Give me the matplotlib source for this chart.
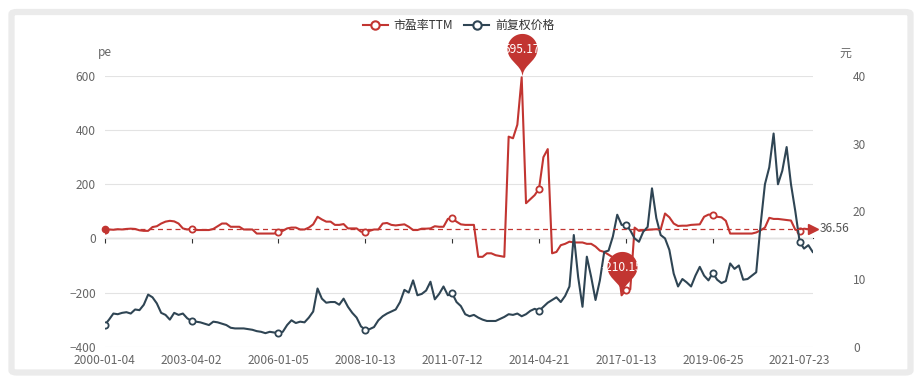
import numpy as np
import matplotlib
matplotlib.use("Agg")
import matplotlib.pyplot as plt
from matplotlib.path import Path
from matplotlib.lines import Line2D
from matplotlib.patches import FancyBboxPatch

plt.rcParams['font.family'] = ['Noto Sans CJK SC', 'DejaVu Sans']

# dados (um ponto a cada ~5 pregoes)
tick_labels = ["2000-01-04", "2003-04-02", "2006-01-05", "2008-10-13", "2011-07-12",
               "2014-04-21", "2017-01-13", "2019-06-25", "2021-07-23"]
label_step = 20

pe_ttm = [30, 33, 32, 34, 33, 35, 36, 35, 30, 28,
          28, 42, 45, 55, 62, 65, 63, 55, 37, 33,
          36, 31, 31, 31, 31, 35, 45, 55, 55, 43,
          43, 43, 33, 33, 33, 18, 18, 18, 18, 18,
          22, 28, 37, 40, 40, 33, 33, 40, 52, 80,
          70, 62, 62, 50, 50, 53, 37, 37, 37, 25,
          25, 28, 33, 33, 55, 57, 50, 48, 50, 52,
          43, 31, 31, 36, 36, 37, 45, 43, 43, 72,
          74, 62, 52, 50, 50, 50, -68, -68, -55, -55,
          -62, -65, -68, 376, 370, 420, 595.17, 130, 145, 160,
          184, 300, 330, -55, -50, -25, -20, -12, -15, -15,
          -15, -20, -20, -30, -45, -50, -60, -70, -80, -210.15,
          -190, -188, 40, 28, 30, 32, 33, 34, 33, 92,
          78, 55, 46, 47, 47, 50, 51, 52, 80, 88,
          88, 80, 78, 65, 18, 18, 18, 18, 18, 18,
          22, 30, 40, 76, 72, 72, 70, 68, 66, 32,
          28, 36, 34, 30]

price = [3.2, 4.0, 4.9, 4.8, 5.0, 5.1, 4.9, 5.5, 5.4, 6.2,
         7.7, 7.3, 6.4, 5.0, 4.7, 4.0, 5.0, 4.7, 4.9, 4.2,
         3.8, 3.7, 3.6, 3.4, 3.2, 3.7, 3.6, 3.4, 3.2, 2.8,
         2.7, 2.7, 2.7, 2.6, 2.5, 2.3, 2.2, 2.0, 2.2, 2.1,
         2.0, 2.2, 3.2, 3.9, 3.5, 3.7, 3.6, 4.3, 5.2, 8.6,
         7.1, 6.5, 6.6, 6.6, 6.2, 7.1, 5.9, 5.0, 4.3, 3.0,
         2.5, 2.6, 2.9, 3.9, 4.5, 4.9, 5.2, 5.5, 6.6, 8.4,
         8.0, 9.8, 7.6, 7.8, 8.3, 9.6, 7.0, 7.8, 8.9, 7.6,
         7.9, 6.6, 6.0, 4.8, 4.5, 4.7, 4.3, 4.0, 3.8, 3.8,
         3.8, 4.1, 4.4, 4.8, 4.7, 4.9, 4.5, 4.8, 5.3, 5.6,
         5.3, 5.9, 6.5, 6.9, 7.3, 6.6, 7.5, 8.9, 16.5, 10.3,
         5.9, 13.3, 10.3, 6.9, 9.8, 14.0, 14.2, 16.3, 19.5, 18.0,
         18.0, 17.2, 16.0, 15.5, 17.0, 17.7, 23.4, 19.0, 16.5, 16.0,
         14.3, 10.8, 8.9, 10.0, 9.5, 8.9, 10.5, 11.8, 10.5, 9.8,
         10.9, 9.9, 9.4, 9.7, 12.3, 11.5, 12.0, 9.9, 10.0, 10.5,
         11.0, 18.0, 24.0, 26.5, 31.5, 24.0, 26.0, 29.5, 24.0, 20.0,
         15.5, 14.5, 15.0, 14.0]

pe_avg = 36.56

red = '#c23531'
dark = '#2f4554'
grey_txt = '#666666'


def pin_marker():
    # formato "pin" do echarts, ponta na origem, y para cima (px)
    w, h = 30.0, 50.0
    r = w / 2
    dy = r * r / (h - r)
    c = h - r - dy
    a = np.arcsin(dy / r)
    dx = np.cos(a) * r
    tx, ty = np.sin(a), np.cos(a)
    cp1, cp2 = r * 0.6, r * 0.7
    ang = np.linspace(np.pi + a, -a, 60)
    verts = [(r * np.cos(t), c + r * np.sin(t)) for t in ang]
    codes = [Path.MOVETO] + [Path.LINETO] * (len(ang) - 1)
    verts += [(dx - tx * cp1, c - dy - ty * cp1), (0, cp2), (0, 0),
              (0, cp2), (-dx + tx * cp1, c - dy - ty * cp1), (-dx, c - dy),
              verts[0]]
    codes += [Path.CURVE4] * 6 + [Path.CLOSEPOLY]
    return Path(verts, codes), c + r


n = len(pe_ttm)
x = np.arange(n)

fig = plt.figure(figsize=(9.16, 3.77), dpi=100)
fig.patch.set_facecolor('white')

# moldura cinza (sombra do card)
fig.add_artist(FancyBboxPatch((11.5 / 916, 4.5 / 377), 899 / 916, 360.5 / 377,
                              boxstyle="round,pad=0,rounding_size=0.006",
                              transform=fig.transFigure, facecolor='none',
                              edgecolor='#ebebeb', linewidth=4.5))

ax = fig.add_axes([104.7 / 916, 30.3 / 377, 708 / 916, 270.7 / 377])
ax2 = ax.twinx()

ax.plot(x, pe_ttm, color=red, lw=1.5, marker='o', markevery=label_step,
        ms=4.5, mfc='white', mew=1.3, zorder=3)
ax2.plot(x, price, color=dark, lw=1.5, marker='o', markevery=label_step,
         ms=4.5, mfc='white', mew=1.3, zorder=3)

ax.set_xlim(0, n - 1)
ax.set_ylim(-400, 600)
ax.set_yticks(range(-400, 601, 200))
ax2.set_ylim(0, 40)
ax2.set_yticks(range(0, 41, 10))

ax.set_xticks(range(0, n, label_step))
ax.set_xticklabels(tick_labels)
ax.tick_params(axis='x', length=0, pad=5.5, labelsize=8.6, labelcolor=grey_txt)
ax.tick_params(axis='y', length=0, pad=6.3, labelsize=8.6, labelcolor=grey_txt)
ax2.tick_params(axis='y', length=0, pad=29, labelsize=8.6, labelcolor=grey_txt)

ax.grid(axis='y', color='#e3e3e3', lw=0.8)
ax.set_axisbelow(True)
for s in ax.spines.values():
    s.set_visible(False)
for s in ax2.spines.values():
    s.set_visible(False)

# eixo x na linha do zero
zero_pos = (0 - (-400)) / 1000
sec = ax.secondary_xaxis(zero_pos)
sec.set_xticks(range(0, n, label_step))
sec.tick_params(axis='x', length=3.6, width=0.8, color='#333333', labelbottom=False)
sec.spines['bottom'].set_color('#333333')
sec.spines['bottom'].set_linewidth(0.8)

# nomes dos eixos
ax.annotate('pe', xy=(0, 1), xycoords='axes fraction', xytext=(0, 16.6),
            textcoords='offset points', ha='center', va='center',
            fontsize=8.6, color=grey_txt)
ax.annotate('元', xy=(1, 1), xycoords='axes fraction', xytext=(23.5, 16.6),
            textcoords='offset points', ha='center', va='center',
            fontsize=8.6, color=grey_txt)

# linha de media (markLine)
ax2.plot([0, n - 1], [pe_avg, pe_avg], transform=ax.transData, color=red,
         lw=0.9, ls=(0, (4, 3)), zorder=4)
ax2.plot([0], [pe_avg], transform=ax.transData, marker='o', ms=4.5,
         color=red, clip_on=False, zorder=4)
ax2.plot([n - 1], [pe_avg], transform=ax.transData, marker='>', ms=7.5,
         color=red, clip_on=False, zorder=4)
ax2.annotate(f'{pe_avg:.2f}', xy=(n - 1, pe_avg), xycoords=ax.transData,
             xytext=(5, 0), textcoords='offset points', ha='left', va='center',
             fontsize=8.6, color='#555555', annotation_clip=False)

# maximo e minimo (markPoint)
pin, top_px = pin_marker()
pin_ms = 2 * top_px * 0.72
for idx in [int(np.argmax(pe_ttm)), int(np.argmin(pe_ttm))]:
    ax2.plot([idx], [pe_ttm[idx]], transform=ax.transData, marker=pin,
             ms=pin_ms, color=red, mec='none', clip_on=False, zorder=6)
    ax2.annotate(f'{pe_ttm[idx]:.2f}', xy=(idx, pe_ttm[idx]), xycoords=ax.transData,
                 xytext=(0, 20), textcoords='offset points', ha='center',
                 va='center', fontsize=8.6, color='white', zorder=7,
                 annotation_clip=False)

# legenda
handles = [Line2D([], [], color=red, lw=1.5, marker='o', ms=6, mfc='white', mew=1.5),
           Line2D([], [], color=dark, lw=1.5, marker='o', ms=6, mfc='white', mew=1.5)]
fig.legend(handles, ['市盈率TTM', '前复权价格'], loc='center',
           bbox_to_anchor=(458.5 / 916, 1 - 25.7 / 377), ncol=2, frameon=False,
           fontsize=8.6, handlelength=2.1, handletextpad=0.5, columnspacing=0.9,
           labelcolor='#333333')

fig.savefig('out.png', dpi=100)
